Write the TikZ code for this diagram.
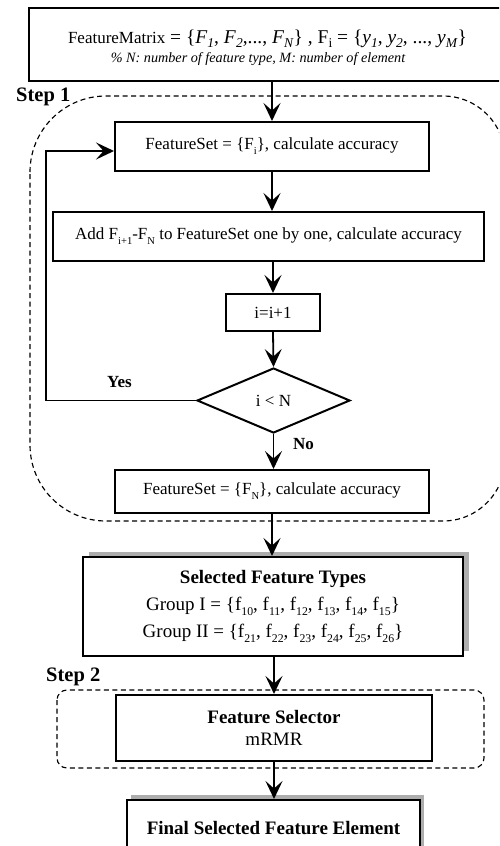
\documentclass[tikz,border=0pt]{standalone}
\usepackage{fontspec}
\setmainfont{Liberation Serif}
\usetikzlibrary{arrows.meta,shapes.geometric,shadows}
\newcommand{\dn}[1]{\raisebox{-0.3em}{\scalebox{0.62}{#1}}}
\newcommand{\ms}[1]{\raisebox{-4.5pt}{\fontsize{13.5}{14}\selectfont #1}}
\begin{document}
\begin{tikzpicture}[x=1pt,y=-1pt]
\tikzset{
  box/.style={draw, line width=2pt, fill=white, inner sep=0pt, align=center},
  conn/.style={line width=1.8pt, -{Stealth[length=18pt,width=17pt,inset=7.5pt]}},
  dline/.style={line width=1.15pt, dash pattern=on 5pt off 3.5pt},
  rg/.style={font=\fontsize{17}{20}\selectfont},
  lg/.style={font=\fontsize{19}{27}\selectfont},
  stepl/.style={font=\fontsize{20.5}{24}\selectfont\bfseries, inner sep=0pt, anchor=base west},
  yn/.style={font=\fontsize{17}{20}\selectfont\bfseries, inner sep=0pt, anchor=base west},
  shad/.style={general shadow={fill=black!32, shadow xshift=#1, shadow yshift=5pt}},
}
\path[use as bounding box, clip] (0,0) rectangle (499,846);

% Step 1 region
\draw[dline] (30,172) arc[start angle=180, end angle=270, radius=76] -- (443,96)
  arc[start angle=270, end angle=360, radius=62] -- (505,459)
  arc[start angle=0, end angle=90, radius=62] -- (106,521)
  arc[start angle=90, end angle=180, radius=76] -- cycle;
% Step 2 region
\draw[dline, rounded corners=10pt] (57,690) rectangle (484,768);

% top box
\node[box, minimum width=473pt, minimum height=73pt] (top) at (265.5,44.5) {};
\node[rg, anchor=base, inner sep=0pt] (t1) at (267.5,43) {FeatureMatrix{\fontsize{19.5}{20}\selectfont{} = \{\textit{F\/}\ms{\textit{1}}, \textit{F\/}\ms{\textit{2}},..., \textit{F\/}\ms{\textit{N}}\} , F\ms{i} = \{\textit{y\/}\ms{\textit{1}}, \textit{y\/}\ms{\textit{2}}, ..., \textit{y\/}\ms{\textit{M}}\}}};
\node[font=\fontsize{14.2}{17}\selectfont\itshape, anchor=base, inner sep=0pt] (t2) at (258,62) {\% N: number of feature type, M: number of element};

\node[stepl] (s1) at (16,101) {Step 1};
\node[stepl] (s2) at (46,681) {Step 2};

\node[box, rg, minimum width=314pt, minimum height=49pt] (A) at (272,146.5) {FeatureSet = \{F\dn{i}\}, calculate accuracy};
\node[box, rg, minimum width=431pt, minimum height=49pt] (B) at (268.5,236.5) {Add F\dn{i+1}-F\dn{N} to FeatureSet one by one, calculate accuracy};
\node[box, rg, minimum width=94pt, minimum height=37pt] (C) at (273,312.5) {i=i+1};
\node[box, rg, shape=diamond, aspect=2.35, minimum width=153pt, minimum height=65pt] (D) at (273.5,400.5) {i < N};
\node[box, rg, minimum width=314pt, minimum height=43pt] (E) at (272,491.5) {FeatureSet = \{F\dn{N}\}, calculate accuracy};
\node[box, lg, shad=5.5pt, minimum width=380pt, minimum height=99pt] (F) at (273,606.5) {\textbf{Selected Feature Types}\\Group I = \{f\dn{10}, f\dn{11}, f\dn{12}, f\dn{13}, f\dn{14}, f\dn{15}\}\\Group II = \{f\dn{21}, f\dn{22}, f\dn{23}, f\dn{24}, f\dn{25}, f\dn{26}\}};
\node[box, font=\fontsize{19}{22}\selectfont, minimum width=316pt, minimum height=66pt] (G) at (274,728) {\textbf{Feature Selector}\\mRMR};
\node[box, lg, shad=4pt, minimum width=293pt, minimum height=56pt] (H) at (273.5,828) {\textbf{Final Selected Feature Element}};

\node[yn] (yes) at (107,387) {Yes};
\node[yn] (no) at (293,449) {No};

\coordinate (lp) at (46,400.5);
\draw[conn] (A.north |- top.south) -- (A.north);
\draw[conn] (A.south) -- (A.south |- B.north);
\draw[conn] (C.north |- B.south) -- (C.north);
\draw[conn] (C.south) -- (D.north);
\draw[conn] (D.south) -- (D.south |- E.north);
\draw[conn] (E.south) -- (E.south |- F.north);
\draw[conn] (G.north |- F.south) -- (G.north);
\draw[conn] (G.south) -- (G.south |- H.north);
\draw[conn] (D.west) -- (lp) |- ([yshift=-4.5pt]A.west);
\end{tikzpicture}
\end{document}
